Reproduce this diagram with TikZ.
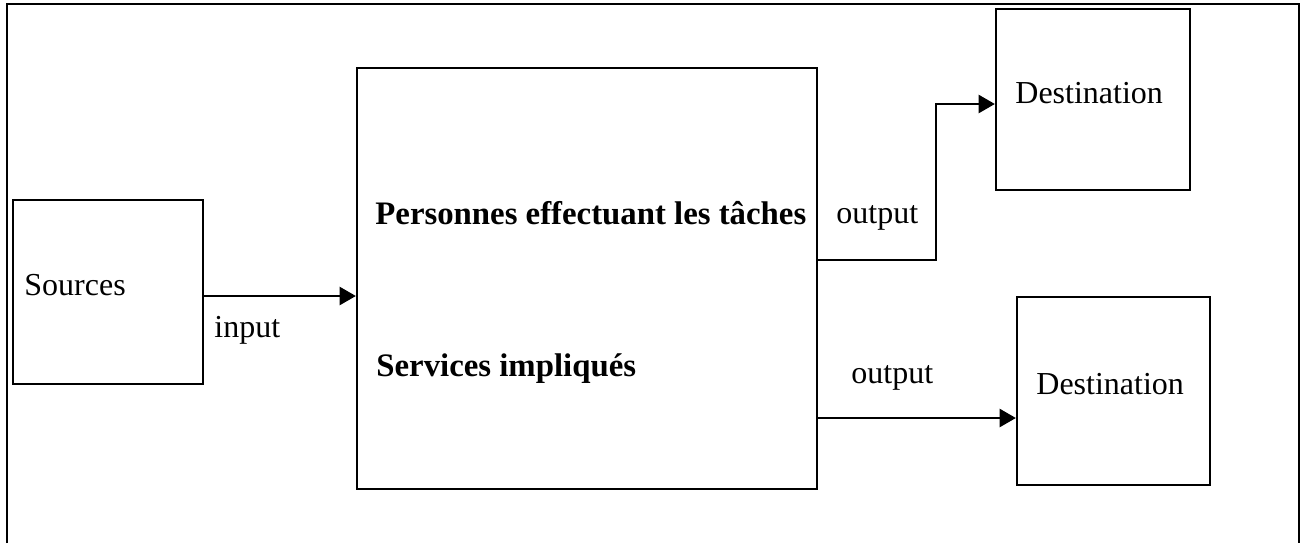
\documentclass[tikz,border=0pt]{standalone}
\usepackage{fontspec}
\setmainfont{Liberation Serif}
\usetikzlibrary{arrows, positioning}
\tikzstyle{block} = [rectangle, 
draw=black, 
line width=1.2pt, 
inner sep=0pt]
\tikzstyle{label} = [inner sep=0pt, 
anchor=west, 
font=\fontsize{16}{19}\selectfont]
\tikzstyle{boldlabel} = [label, 
font=\fontsize{16.4}{20}\selectfont\bfseries]
\tikzstyle{arrow} = [line width=1.2pt,->,>=triangle 60]

\begin{document}
\begin{tikzpicture}[x=0.5pt, y=-0.5pt]

\useasboundingbox (0,0) rectangle (1301,543);

% cadre
\draw [line width=1.4pt] (7,543) -- (7,4) -- (1299,4) -- (1299,543);

\node (sources) [block, minimum width=95pt, minimum height=92pt] at (108,292) {};
\node (taches) [block, minimum width=230pt, minimum height=210.5pt] at (587,278.5) {};
\node (dest_haut) [block, minimum width=97pt, minimum height=90.5pt] at (1093,99.5) {};
\node (dest_bas) [block, minimum width=96.5pt, minimum height=94pt] at (1113.5,391) {};

\node (sources_txt) [label] at (24,285) {Sources};
\node (input_txt) [label] at (214,330) {input};
\node (personnes_txt) [boldlabel] at (375,213) {Personnes effectuant les tâches};
\node (services_txt) [boldlabel] at (376,369) {Services impliqués};
\node (output_haut) [label] at (836,218) {output};
\node (output_bas) [label] at (851,378) {output};
\node (dest_haut_txt) [label] at (1015,93) {Destination};
\node (dest_bas_txt) [label] at (1036,384) {Destination};

\coordinate (coude) at (936,260);

\draw [arrow] ([yshift=-2pt]sources.east) -- ([yshift=-2pt]sources.east -| taches.west);
\draw [arrow] (taches.east |- coude) -- (coude) |- ([yshift=-2.25pt]dest_haut.west);
\draw [arrow] ([yshift=-13.5pt]dest_bas.west -| taches.east) -- ([yshift=-13.5pt]dest_bas.west);

\end{tikzpicture}
\end{document}
